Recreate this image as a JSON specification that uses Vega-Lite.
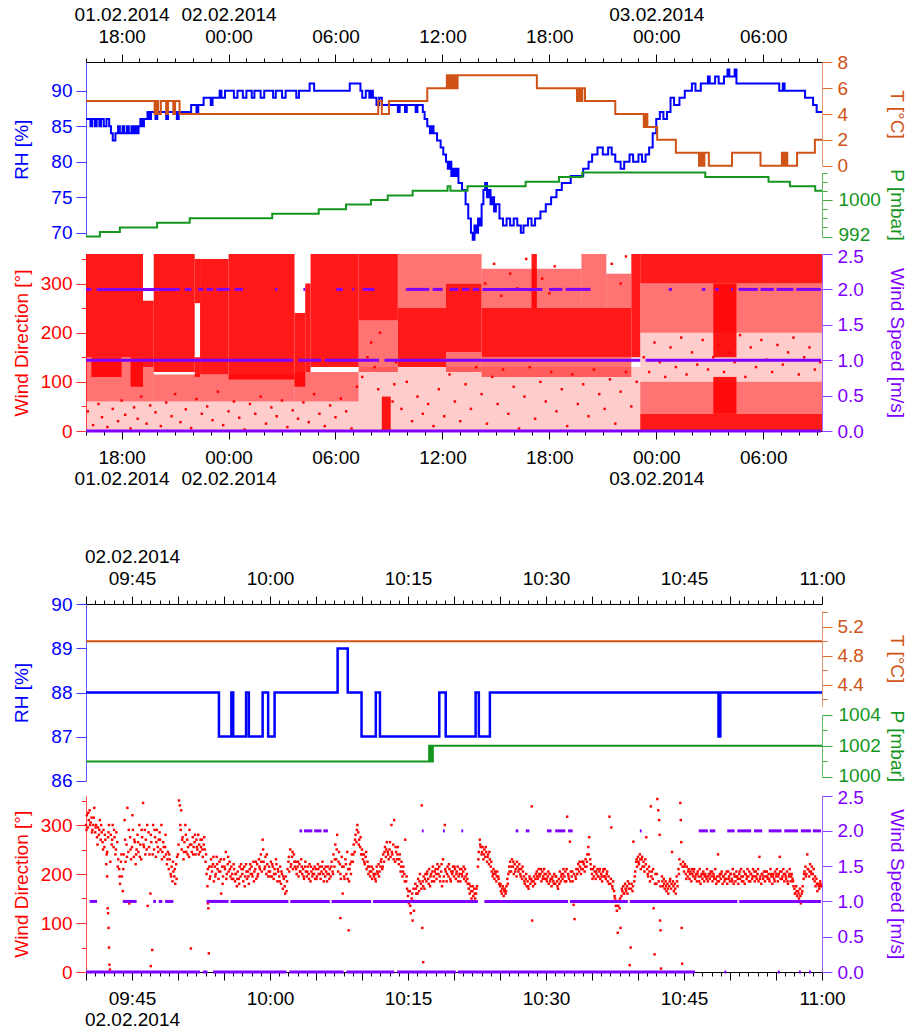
{
"$schema": "https://vega.github.io/schema/vega-lite/v6.json",
"background": "white",
"padding": {"left": 12, "top": 5, "right": 2, "bottom": 2},
"bounds": "flush",
"spacing": 173,
"config": {
  "font": "Liberation Sans",
  "view": {"stroke": null},
  "axis": {"labelFont": "Liberation Sans", "titleFont": "Liberation Sans", "labelFontSize": 19, "titleFontSize": 19, "titleFontWeight": "normal", "grid": false, "labelOverlap": false, "labelFlush": false, "labelBound": false, "domainWidth": 1, "tickWidth": 1, "labelLineHeight": 21.5}
},
"datasets": {
  "rh1": [{"h":16.0,"v":86},{"h":16.25,"v":85},{"h":16.35,"v":86},{"h":16.5,"v":85},{"h":16.6,"v":86},{"h":16.75,"v":85},{"h":16.85,"v":86},{"h":17.0,"v":85},{"h":17.15,"v":86},{"h":17.3,"v":85},{"h":17.4,"v":84},{"h":17.5,"v":83},{"h":17.65,"v":84},{"h":17.8,"v":85},{"h":17.9,"v":84},{"h":18.05,"v":85},{"h":18.15,"v":84},{"h":18.3,"v":85},{"h":18.4,"v":84},{"h":18.55,"v":85},{"h":18.65,"v":84},{"h":18.75,"v":85},{"h":18.85,"v":84},{"h":18.95,"v":85},{"h":19.05,"v":86},{"h":19.15,"v":85},{"h":19.25,"v":86},{"h":19.45,"v":87},{"h":19.55,"v":86},{"h":19.65,"v":87},{"h":19.9,"v":86},{"h":20.0,"v":87},{"h":20.5,"v":86},{"h":20.6,"v":87},{"h":21.1,"v":86},{"h":21.2,"v":87},{"h":21.9,"v":88},{"h":22.2,"v":87},{"h":22.3,"v":88},{"h":22.6,"v":89},{"h":23.0,"v":88},{"h":23.1,"v":89},{"h":23.5,"v":90},{"h":23.6,"v":89},{"h":23.8,"v":90},{"h":24.3,"v":89},{"h":24.5,"v":90},{"h":24.8,"v":89},{"h":25.0,"v":90},{"h":25.3,"v":89},{"h":25.45,"v":90},{"h":25.8,"v":89},{"h":26.0,"v":90},{"h":26.5,"v":89},{"h":26.65,"v":90},{"h":27.0,"v":89},{"h":27.2,"v":90},{"h":27.8,"v":89},{"h":27.95,"v":90},{"h":28.55,"v":91},{"h":28.8,"v":90},{"h":30.8,"v":91},{"h":31.4,"v":90},{"h":31.5,"v":89},{"h":31.7,"v":90},{"h":31.9,"v":89},{"h":32.0,"v":90},{"h":32.1,"v":89},{"h":32.3,"v":88},{"h":32.45,"v":89},{"h":32.6,"v":88},{"h":33.5,"v":87},{"h":33.6,"v":88},{"h":33.9,"v":87},{"h":34.0,"v":88},{"h":34.5,"v":87},{"h":34.6,"v":88},{"h":34.9,"v":87},{"h":35.0,"v":86},{"h":35.15,"v":85},{"h":35.3,"v":84},{"h":35.4,"v":85},{"h":35.5,"v":84},{"h":35.7,"v":83},{"h":35.9,"v":82},{"h":36.05,"v":81},{"h":36.2,"v":80},{"h":36.3,"v":79},{"h":36.4,"v":80},{"h":36.5,"v":78},{"h":36.6,"v":79},{"h":36.7,"v":78},{"h":36.8,"v":79},{"h":36.9,"v":77},{"h":37.1,"v":76},{"h":37.3,"v":74},{"h":37.45,"v":72},{"h":37.6,"v":70},{"h":37.7,"v":69},{"h":37.8,"v":71},{"h":37.9,"v":70},{"h":38.0,"v":72},{"h":38.1,"v":71},{"h":38.2,"v":74},{"h":38.3,"v":76},{"h":38.4,"v":77},{"h":38.5,"v":75},{"h":38.6,"v":76},{"h":38.7,"v":74},{"h":38.8,"v":75},{"h":38.9,"v":73},{"h":39.0,"v":74},{"h":39.2,"v":72},{"h":39.4,"v":71},{"h":39.6,"v":72},{"h":39.8,"v":71},{"h":40.0,"v":72},{"h":40.2,"v":71},{"h":40.4,"v":70},{"h":40.55,"v":71},{"h":40.8,"v":72},{"h":41.0,"v":71},{"h":41.2,"v":72},{"h":41.5,"v":73},{"h":41.8,"v":74},{"h":42.1,"v":75},{"h":42.4,"v":76},{"h":42.7,"v":77},{"h":43.2,"v":78},{"h":43.9,"v":79},{"h":44.2,"v":80},{"h":44.4,"v":81},{"h":44.7,"v":82},{"h":45.0,"v":81},{"h":45.3,"v":82},{"h":45.5,"v":81},{"h":45.7,"v":80},{"h":46.0,"v":79},{"h":46.2,"v":80},{"h":46.5,"v":81},{"h":46.7,"v":80},{"h":47.0,"v":81},{"h":47.2,"v":80},{"h":47.4,"v":81},{"h":47.6,"v":82},{"h":47.8,"v":84},{"h":48.0,"v":86},{"h":48.2,"v":87},{"h":48.4,"v":86},{"h":48.6,"v":87},{"h":48.8,"v":89},{"h":49.0,"v":88},{"h":49.3,"v":89},{"h":49.6,"v":90},{"h":50.0,"v":91},{"h":50.2,"v":90},{"h":50.5,"v":91},{"h":50.9,"v":92},{"h":51.0,"v":91},{"h":51.3,"v":92},{"h":51.5,"v":91},{"h":51.8,"v":92},{"h":52.0,"v":93},{"h":52.1,"v":92},{"h":52.4,"v":93},{"h":52.5,"v":91},{"h":54.9,"v":90},{"h":55.1,"v":91},{"h":55.2,"v":90},{"h":56.35,"v":89},{"h":56.8,"v":88},{"h":57.0,"v":87},{"h":57.3,"v":87}],
  "t1": [{"h":16,"v":5},{"h":19.85,"v":4},{"h":19.95,"v":5},{"h":20.05,"v":4},{"h":20.2,"v":5},{"h":20.5,"v":4},{"h":20.6,"v":5},{"h":20.9,"v":4},{"h":21.0,"v":5},{"h":21.25,"v":4},{"h":32.4,"v":5},{"h":32.6,"v":4},{"h":33.0,"v":5},{"h":35.15,"v":6},{"h":36.25,"v":7},{"h":36.35,"v":6},{"h":36.45,"v":7},{"h":36.55,"v":6},{"h":36.65,"v":7},{"h":36.75,"v":6},{"h":36.85,"v":7},{"h":41.3,"v":6},{"h":43.55,"v":5},{"h":43.65,"v":6},{"h":43.75,"v":5},{"h":43.85,"v":6},{"h":44.0,"v":5},{"h":45.7,"v":4},{"h":47.3,"v":3},{"h":47.4,"v":4},{"h":47.5,"v":3},{"h":48.05,"v":2},{"h":49.1,"v":1},{"h":50.4,"v":0},{"h":50.5,"v":1},{"h":50.6,"v":0},{"h":50.7,"v":1},{"h":50.95,"v":0},{"h":52.25,"v":1},{"h":53.85,"v":0},{"h":55.05,"v":1},{"h":55.15,"v":0},{"h":55.25,"v":1},{"h":55.35,"v":0},{"h":55.9,"v":1},{"h":56.9,"v":2},{"h":57.3,"v":2}],
  "p1": [{"h":16,"v":992},{"h":16.78,"v":993},{"h":17.9,"v":994},{"h":19.99,"v":995},{"h":21.82,"v":996},{"h":26.45,"v":997},{"h":29.06,"v":998},{"h":30.59,"v":999},{"h":31.99,"v":1000},{"h":32.93,"v":1001},{"h":34.33,"v":1002},{"h":36.29,"v":1003},{"h":36.45,"v":1002},{"h":37.41,"v":1003},{"h":40.67,"v":1004},{"h":42.54,"v":1005},{"h":43.85,"v":1006},{"h":50.75,"v":1005},{"h":54.3,"v":1004},{"h":55.5,"v":1003},{"h":56.92,"v":1002},{"h":57.3,"v":1002}],
  "wdL1": [{"h0":16.0,"h1":31.3,"lo":0,"hi":60},{"h0":31.3,"h1":47.1,"lo":0,"hi":130},{"h0":47.1,"h1":57.3,"lo":100,"hi":200}],
  "wdM1": [{"h0":16.0,"h1":19.2,"lo":60,"hi":150},{"h0":19.2,"h1":19.8,"lo":60,"hi":130},{"h0":19.8,"h1":27.7,"lo":60,"hi":115},{"h0":27.7,"h1":31.3,"lo":60,"hi":120},{"h0":31.3,"h1":33.5,"lo":120,"hi":225},{"h0":33.5,"h1":36.2,"lo":250,"hi":360},{"h0":36.2,"h1":38.2,"lo":300,"hi":360},{"h0":36.2,"h1":38.2,"lo":120,"hi":160},{"h0":38.2,"h1":43.8,"lo":250,"hi":330},{"h0":38.2,"h1":46.6,"lo":110,"hi":150},{"h0":43.8,"h1":45.2,"lo":250,"hi":360},{"h0":45.2,"h1":46.6,"lo":250,"hi":320},{"h0":47.1,"h1":57.3,"lo":200,"hi":300},{"h0":47.1,"h1":57.3,"lo":35,"hi":100}],
  "wdD1": [{"h0":16.0,"h1":19.2,"lo":150,"hi":360},{"h0":16.3,"h1":18.0,"lo":110,"hi":150},{"h0":18.5,"h1":19.2,"lo":90,"hi":150},{"h0":19.2,"h1":19.8,"lo":130,"hi":265},{"h0":19.8,"h1":22.1,"lo":120,"hi":360},{"h0":22.1,"h1":22.4,"lo":260,"hi":350},{"h0":22.1,"h1":22.4,"lo":110,"hi":150},{"h0":22.4,"h1":24.0,"lo":115,"hi":350},{"h0":24.0,"h1":27.7,"lo":105,"hi":360},{"h0":27.7,"h1":28.3,"lo":90,"hi":240},{"h0":28.3,"h1":28.6,"lo":120,"hi":300},{"h0":28.6,"h1":31.3,"lo":130,"hi":360},{"h0":31.3,"h1":33.5,"lo":225,"hi":360},{"h0":32.6,"h1":33.1,"lo":0,"hi":70},{"h0":33.5,"h1":36.2,"lo":130,"hi":250},{"h0":36.2,"h1":38.2,"lo":160,"hi":300},{"h0":38.2,"h1":46.6,"lo":150,"hi":250},{"h0":41.0,"h1":41.3,"lo":250,"hi":360},{"h0":46.6,"h1":47.1,"lo":150,"hi":360},{"h0":47.1,"h1":57.3,"lo":300,"hi":360},{"h0":47.1,"h1":57.3,"lo":0,"hi":35},{"h0":51.2,"h1":52.5,"lo":35,"hi":110},{"h0":51.2,"h1":52.5,"lo":150,"hi":300}],
  "wdp1": [{"h":16.1,"d":40},{"h":16.4,"d":12},{"h":16.7,"d":55},{"h":16.9,"d":28},{"h":17.2,"d":8},{"h":17.5,"d":45},{"h":17.8,"d":20},{"h":18.0,"d":62},{"h":18.2,"d":33},{"h":18.5,"d":5},{"h":18.7,"d":48},{"h":18.9,"d":25},{"h":19.1,"d":70},{"h":19.4,"d":15},{"h":19.6,"d":52},{"h":19.9,"d":38},{"h":20.2,"d":10},{"h":20.5,"d":58},{"h":20.8,"d":30},{"h":21.0,"d":75},{"h":21.3,"d":18},{"h":21.6,"d":44},{"h":21.9,"d":6},{"h":22.2,"d":65},{"h":22.5,"d":35},{"h":22.8,"d":50},{"h":23.1,"d":22},{"h":23.4,"d":80},{"h":23.7,"d":12},{"h":24.0,"d":40},{"h":24.3,"d":60},{"h":24.6,"d":27},{"h":24.9,"d":3},{"h":25.2,"d":55},{"h":25.5,"d":35},{"h":25.8,"d":70},{"h":26.1,"d":15},{"h":26.4,"d":48},{"h":26.7,"d":30},{"h":27.0,"d":62},{"h":27.3,"d":8},{"h":27.6,"d":42},{"h":27.9,"d":25},{"h":28.2,"d":58},{"h":28.5,"d":18},{"h":28.8,"d":75},{"h":29.1,"d":35},{"h":29.4,"d":10},{"h":29.7,"d":52},{"h":30.0,"d":28},{"h":30.3,"d":66},{"h":30.6,"d":40},{"h":30.9,"d":5},{"h":31.2,"d":90},{"h":31.5,"d":110},{"h":31.8,"d":150},{"h":32.0,"d":180},{"h":32.2,"d":130},{"h":32.4,"d":85},{"h":32.5,"d":200},{"h":33.2,"d":60},{"h":33.3,"d":95},{"h":33.4,"d":140},{"h":33.7,"d":45},{"h":34.0,"d":100},{"h":34.3,"d":20},{"h":34.6,"d":70},{"h":34.9,"d":35},{"h":35.2,"d":55},{"h":35.5,"d":10},{"h":35.8,"d":85},{"h":36.1,"d":30},{"h":36.4,"d":115},{"h":36.7,"d":60},{"h":37.0,"d":20},{"h":37.3,"d":95},{"h":37.6,"d":45},{"h":37.9,"d":130},{"h":38.2,"d":75},{"h":38.5,"d":15},{"h":38.8,"d":110},{"h":39.1,"d":55},{"h":39.4,"d":125},{"h":39.7,"d":35},{"h":40.0,"d":90},{"h":40.3,"d":5},{"h":40.6,"d":70},{"h":40.9,"d":130},{"h":41.2,"d":25},{"h":41.5,"d":100},{"h":41.8,"d":60},{"h":42.1,"d":120},{"h":42.4,"d":40},{"h":42.7,"d":85},{"h":43.0,"d":10},{"h":43.3,"d":115},{"h":43.6,"d":55},{"h":43.9,"d":95},{"h":44.2,"d":30},{"h":44.5,"d":125},{"h":44.8,"d":75},{"h":45.1,"d":45},{"h":45.4,"d":105},{"h":45.7,"d":15},{"h":46.0,"d":80},{"h":46.3,"d":120},{"h":46.6,"d":50},{"h":46.9,"d":100},{"h":38.4,"d":300},{"h":38.9,"d":340},{"h":39.3,"d":275},{"h":39.8,"d":320},{"h":40.2,"d":290},{"h":40.7,"d":350},{"h":41.6,"d":310},{"h":42.0,"d":280},{"h":42.3,"d":335},{"h":45.5,"d":340},{"h":46.0,"d":300},{"h":46.3,"d":355},{"h":47.3,"d":150},{"h":47.6,"d":120},{"h":47.9,"d":180},{"h":48.2,"d":140},{"h":48.5,"d":110},{"h":48.8,"d":170},{"h":49.1,"d":130},{"h":49.4,"d":190},{"h":49.7,"d":115},{"h":50.0,"d":160},{"h":50.3,"d":135},{"h":50.6,"d":185},{"h":50.9,"d":125},{"h":51.2,"d":150},{"h":51.5,"d":175},{"h":51.8,"d":120},{"h":52.1,"d":160},{"h":52.4,"d":140},{"h":52.7,"d":195},{"h":53.0,"d":110},{"h":53.3,"d":170},{"h":53.6,"d":130},{"h":53.9,"d":185},{"h":54.2,"d":145},{"h":54.5,"d":120},{"h":54.8,"d":175},{"h":55.1,"d":135},{"h":55.4,"d":160},{"h":55.7,"d":190},{"h":56.0,"d":115},{"h":56.3,"d":150},{"h":56.6,"d":170},{"h":56.9,"d":125},{"h":57.2,"d":140}],
  "ws1": [{"h0":16.0,"h1":16.3,"s":2},{"h0":16.6,"h1":21.26,"s":2},{"h0":21.54,"h1":21.92,"s":2},{"h0":22.29,"h1":22.57,"s":2},{"h0":22.76,"h1":23.13,"s":2},{"h0":23.32,"h1":24.06,"s":2},{"h0":24.34,"h1":24.81,"s":2},{"h0":26.6,"h1":26.75,"s":2},{"h0":28.2,"h1":28.3,"s":2},{"h0":30.04,"h1":30.41,"s":2},{"h0":30.95,"h1":31.05,"s":2},{"h0":31.53,"h1":32.18,"s":2},{"h0":33.95,"h1":35.26,"s":2},{"h0":35.45,"h1":36.01,"s":2},{"h0":36.4,"h1":36.9,"s":2},{"h0":37.1,"h1":37.5,"s":2},{"h0":37.7,"h1":38.06,"s":2},{"h0":38.25,"h1":41.61,"s":2},{"h0":41.98,"h1":42.73,"s":2},{"h0":42.91,"h1":44.31,"s":2},{"h0":48.7,"h1":48.88,"s":2},{"h0":50.56,"h1":50.75,"s":2},{"h0":51.31,"h1":51.5,"s":2},{"h0":52.2,"h1":52.3,"s":2},{"h0":52.62,"h1":53.7,"s":2},{"h0":53.85,"h1":54.6,"s":2},{"h0":54.75,"h1":55.7,"s":2},{"h0":55.85,"h1":57.25,"s":2},{"h0":16.0,"h1":27.6,"s":1},{"h0":27.9,"h1":29.2,"s":1},{"h0":29.4,"h1":32.45,"s":1},{"h0":32.75,"h1":47.1,"s":1},{"h0":47.4,"h1":57.25,"s":1},{"h0":16.0,"h1":57.25,"s":0}],
  "rh2": [{"m":40,"v":88},{"m":54.45,"v":87},{"m":55.8,"v":88},{"m":56.0,"v":87},{"m":57.4,"v":88},{"m":57.7,"v":87},{"m":59.2,"v":88},{"m":59.8,"v":87},{"m":60.5,"v":88},{"m":67.35,"v":89},{"m":68.45,"v":88},{"m":69.95,"v":87},{"m":71.5,"v":88},{"m":71.95,"v":87},{"m":78.4,"v":88},{"m":79.1,"v":87},{"m":82.35,"v":88},{"m":82.7,"v":87},{"m":83.9,"v":88},{"m":108.75,"v":87},{"m":108.95,"v":88},{"m":120,"v":88}],
  "t2": [{"m":40,"v":5.0},{"m":120,"v":5.0}],
  "p2": [{"m":40,"v":1001},{"m":77.3,"v":1002},{"m":77.4,"v":1001},{"m":77.5,"v":1002},{"m":77.6,"v":1001},{"m":77.7,"v":1002},{"m":120,"v":1002}],
  "ws2": [{"m0":63.2,"m1":63.5,"s":2},{"m0":63.7,"m1":64.6,"s":2},{"m0":64.8,"m1":65.6,"s":2},{"m0":65.8,"m1":66.3,"s":2},{"m0":76.5,"m1":76.7,"s":2},{"m0":78.8,"m1":79.0,"s":2},{"m0":80.8,"m1":81.0,"s":2},{"m0":86.7,"m1":87.0,"s":2},{"m0":87.8,"m1":88.2,"s":2},{"m0":90.1,"m1":90.6,"s":2},{"m0":91.0,"m1":92.1,"s":2},{"m0":92.4,"m1":92.9,"s":2},{"m0":100.2,"m1":100.4,"s":2},{"m0":106.6,"m1":107.6,"s":2},{"m0":107.8,"m1":108.4,"s":2},{"m0":109.7,"m1":110.5,"s":2},{"m0":110.8,"m1":112.3,"s":2},{"m0":112.6,"m1":113.5,"s":2},{"m0":114.2,"m1":115.6,"s":2},{"m0":115.9,"m1":117.4,"s":2},{"m0":117.7,"m1":118.8,"s":2},{"m0":119.0,"m1":119.9,"s":2},{"m0":40.4,"m1":41.2,"s":1},{"m0":44.0,"m1":45.5,"s":1},{"m0":47.3,"m1":47.6,"s":1},{"m0":47.9,"m1":48.3,"s":1},{"m0":48.6,"m1":49.5,"s":1},{"m0":53.1,"m1":55.5,"s":1},{"m0":55.7,"m1":62.0,"s":1},{"m0":62.2,"m1":66.5,"s":1},{"m0":66.7,"m1":71.0,"s":1},{"m0":71.2,"m1":82.6,"s":1},{"m0":83.3,"m1":92.4,"s":1},{"m0":92.6,"m1":98.9,"s":1},{"m0":99.1,"m1":110.8,"s":1},{"m0":111.0,"m1":119.9,"s":1},{"m0":40,"m1":52.4,"s":0},{"m0":52.7,"m1":53.2,"s":0},{"m0":53.8,"m1":61.8,"s":0},{"m0":62.1,"m1":68.0,"s":0},{"m0":68.3,"m1":73.5,"s":0},{"m0":73.8,"m1":80.2,"s":0},{"m0":80.4,"m1":106.2,"s":0},{"m0":109.4,"m1":109.6,"s":0},{"m0":115.2,"m1":115.4,"s":0},{"m0":117.5,"m1":117.7,"s":0},{"m0":118.6,"m1":118.8,"s":0}],
  "wd2": [{"m":40.0,"d":300},{"m":40.1,"d":320},{"m":40.2,"d":295},{"m":40.3,"d":310},{"m":40.4,"d":330},{"m":40.5,"d":305},{"m":40.6,"d":315},{"m":40.7,"d":290},{"m":40.8,"d":300},{"m":40.9,"d":335},{"m":41.0,"d":285},{"m":41.1,"d":300},{"m":41.2,"d":275},{"m":41.3,"d":295},{"m":41.4,"d":280},{"m":41.5,"d":310},{"m":41.6,"d":270},{"m":41.7,"d":285},{"m":41.8,"d":265},{"m":41.9,"d":290},{"m":42.0,"d":255},{"m":42.1,"d":270},{"m":42.2,"d":220},{"m":42.3,"d":195},{"m":42.35,"d":130},{"m":42.4,"d":120},{"m":42.45,"d":90},{"m":42.5,"d":50},{"m":42.55,"d":15},{"m":42.6,"d":5},{"m":42.3,"d":245},{"m":42.4,"d":275},{"m":42.5,"d":300},{"m":42.7,"d":280},{"m":42.8,"d":260},{"m":42.9,"d":300},{"m":43.0,"d":255},{"m":43.1,"d":275},{"m":43.2,"d":240},{"m":43.3,"d":285},{"m":43.4,"d":265},{"m":43.5,"d":230},{"m":43.6,"d":210},{"m":43.7,"d":180},{"m":43.8,"d":225},{"m":43.9,"d":195},{"m":44.0,"d":165},{"m":44.1,"d":240},{"m":44.2,"d":310},{"m":44.3,"d":225},{"m":44.4,"d":260},{"m":44.5,"d":335},{"m":44.6,"d":245},{"m":44.7,"d":140},{"m":44.8,"d":275},{"m":44.9,"d":230},{"m":45.0,"d":255},{"m":45.1,"d":290},{"m":45.2,"d":235},{"m":45.3,"d":265},{"m":45.4,"d":220},{"m":45.5,"d":250},{"m":45.6,"d":280},{"m":45.7,"d":245},{"m":45.8,"d":300},{"m":45.9,"d":260},{"m":46.0,"d":230},{"m":46.1,"d":275},{"m":46.2,"d":345},{"m":46.3,"d":255},{"m":46.4,"d":290},{"m":46.5,"d":270},{"m":46.6,"d":250},{"m":46.7,"d":135},{"m":46.8,"d":285},{"m":46.9,"d":240},{"m":47.0,"d":160},{"m":47.05,"d":12},{"m":47.1,"d":265},{"m":47.2,"d":45},{"m":47.3,"d":300},{"m":47.4,"d":250},{"m":47.5,"d":275},{"m":47.6,"d":235},{"m":47.7,"d":290},{"m":47.8,"d":255},{"m":47.9,"d":270},{"m":48.0,"d":285},{"m":48.1,"d":250},{"m":48.2,"d":300},{"m":48.3,"d":245},{"m":48.4,"d":265},{"m":48.5,"d":235},{"m":48.6,"d":255},{"m":48.7,"d":240},{"m":48.8,"d":220},{"m":48.9,"d":245},{"m":49.0,"d":210},{"m":49.1,"d":230},{"m":49.2,"d":200},{"m":49.3,"d":215},{"m":49.4,"d":185},{"m":49.5,"d":205},{"m":49.6,"d":195},{"m":49.7,"d":180},{"m":49.8,"d":220},{"m":49.9,"d":235},{"m":50.0,"d":240},{"m":50.1,"d":350},{"m":50.2,"d":340},{"m":50.3,"d":290},{"m":50.35,"d":330},{"m":50.4,"d":250},{"m":50.5,"d":275},{"m":50.6,"d":230},{"m":50.7,"d":265},{"m":50.8,"d":300},{"m":50.9,"d":245},{"m":51.0,"d":270},{"m":51.1,"d":255},{"m":51.2,"d":235},{"m":51.3,"d":260},{"m":51.4,"d":48},{"m":51.5,"d":245},{"m":51.6,"d":275},{"m":51.7,"d":255},{"m":51.8,"d":265},{"m":51.9,"d":240},{"m":52.0,"d":270},{"m":52.1,"d":250},{"m":52.2,"d":280},{"m":52.3,"d":260},{"m":52.4,"d":245},{"m":52.5,"d":255},{"m":52.6,"d":270},{"m":52.7,"d":235},{"m":52.8,"d":260},{"m":52.9,"d":250},{"m":53.0,"d":225},{"m":53.1,"d":200},{"m":53.2,"d":175},{"m":53.25,"d":140},{"m":53.3,"d":130},{"m":53.35,"d":38},{"m":53.4,"d":215},{"m":53.5,"d":195},{"m":53.6,"d":230},{"m":53.7,"d":205},{"m":53.8,"d":220},{"m":53.9,"d":185},{"m":54.0,"d":215},{"m":54.1,"d":200},{"m":54.2,"d":235},{"m":54.3,"d":210},{"m":54.4,"d":190},{"m":54.5,"d":225},{"m":54.6,"d":205},{"m":54.7,"d":160},{"m":54.8,"d":215},{"m":54.9,"d":195},{"m":55.0,"d":230},{"m":55.1,"d":210},{"m":55.2,"d":245},{"m":55.3,"d":200},{"m":55.4,"d":220},{"m":55.5,"d":205},{"m":55.6,"d":225},{"m":55.7,"d":195},{"m":55.8,"d":215},{"m":55.9,"d":200},{"m":56.0,"d":190},{"m":56.1,"d":210},{"m":56.2,"d":185},{"m":56.3,"d":200},{"m":56.4,"d":175},{"m":56.5,"d":205},{"m":56.6,"d":190},{"m":56.7,"d":215},{"m":56.8,"d":195},{"m":56.9,"d":210},{"m":57.0,"d":200},{"m":57.1,"d":185},{"m":57.2,"d":215},{"m":57.3,"d":195},{"m":57.4,"d":220},{"m":57.5,"d":190},{"m":57.6,"d":205},{"m":57.7,"d":180},{"m":57.8,"d":210},{"m":57.9,"d":200},{"m":58.0,"d":215},{"m":58.1,"d":195},{"m":58.2,"d":225},{"m":58.3,"d":205},{"m":58.4,"d":210},{"m":58.5,"d":190},{"m":58.6,"d":220},{"m":58.7,"d":200},{"m":58.8,"d":230},{"m":58.9,"d":210},{"m":59.0,"d":240},{"m":59.1,"d":205},{"m":59.2,"d":270},{"m":59.3,"d":225},{"m":59.4,"d":210},{"m":59.5,"d":235},{"m":59.6,"d":200},{"m":59.7,"d":220},{"m":59.8,"d":195},{"m":59.9,"d":215},{"m":60.0,"d":205},{"m":60.1,"d":225},{"m":60.2,"d":195},{"m":60.3,"d":215},{"m":60.4,"d":190},{"m":60.5,"d":210},{"m":60.6,"d":200},{"m":60.7,"d":220},{"m":60.8,"d":185},{"m":60.9,"d":205},{"m":61.0,"d":195},{"m":61.1,"d":215},{"m":61.2,"d":180},{"m":61.3,"d":200},{"m":61.4,"d":170},{"m":61.5,"d":190},{"m":61.6,"d":175},{"m":61.7,"d":195},{"m":61.8,"d":165},{"m":61.9,"d":210},{"m":62.0,"d":225},{"m":62.1,"d":205},{"m":62.2,"d":250},{"m":62.3,"d":220},{"m":62.4,"d":235},{"m":62.5,"d":210},{"m":62.6,"d":240},{"m":62.7,"d":215},{"m":62.8,"d":225},{"m":62.9,"d":200},{"m":63.0,"d":215},{"m":63.1,"d":195},{"m":63.2,"d":220},{"m":63.3,"d":205},{"m":63.4,"d":230},{"m":63.5,"d":200},{"m":63.6,"d":210},{"m":63.7,"d":190},{"m":63.8,"d":215},{"m":63.9,"d":205},{"m":64.0,"d":195},{"m":64.1,"d":215},{"m":64.2,"d":200},{"m":64.3,"d":220},{"m":64.4,"d":185},{"m":64.5,"d":205},{"m":64.6,"d":195},{"m":64.7,"d":210},{"m":64.8,"d":200},{"m":64.9,"d":190},{"m":65.0,"d":210},{"m":65.1,"d":195},{"m":65.2,"d":220},{"m":65.3,"d":200},{"m":65.4,"d":215},{"m":65.5,"d":190},{"m":65.6,"d":205},{"m":65.7,"d":225},{"m":65.8,"d":200},{"m":65.9,"d":210},{"m":66.0,"d":195},{"m":66.1,"d":205},{"m":66.2,"d":185},{"m":66.3,"d":215},{"m":66.4,"d":200},{"m":66.5,"d":210},{"m":66.6,"d":195},{"m":66.7,"d":225},{"m":66.8,"d":205},{"m":66.9,"d":240},{"m":67.0,"d":215},{"m":67.1,"d":260},{"m":67.2,"d":230},{"m":67.3,"d":280},{"m":67.4,"d":205},{"m":67.5,"d":245},{"m":67.6,"d":220},{"m":67.65,"d":110},{"m":67.7,"d":190},{"m":67.8,"d":235},{"m":67.9,"d":160},{"m":68.0,"d":215},{"m":68.1,"d":190},{"m":68.2,"d":230},{"m":68.3,"d":200},{"m":68.4,"d":245},{"m":68.5,"d":210},{"m":68.55,"d":85},{"m":68.6,"d":185},{"m":68.7,"d":220},{"m":68.8,"d":200},{"m":68.9,"d":240},{"m":69.0,"d":225},{"m":69.1,"d":260},{"m":69.2,"d":245},{"m":69.3,"d":280},{"m":69.4,"d":265},{"m":69.5,"d":300},{"m":69.6,"d":285},{"m":69.7,"d":270},{"m":69.8,"d":255},{"m":69.9,"d":240},{"m":70.0,"d":250},{"m":70.1,"d":230},{"m":70.2,"d":240},{"m":70.3,"d":220},{"m":70.4,"d":235},{"m":70.5,"d":210},{"m":70.6,"d":225},{"m":70.7,"d":200},{"m":70.8,"d":215},{"m":70.9,"d":195},{"m":71.0,"d":205},{"m":71.1,"d":190},{"m":71.2,"d":210},{"m":71.3,"d":195},{"m":71.4,"d":200},{"m":71.5,"d":185},{"m":71.6,"d":215},{"m":71.7,"d":200},{"m":71.8,"d":220},{"m":71.9,"d":205},{"m":72.0,"d":215},{"m":72.1,"d":230},{"m":72.2,"d":210},{"m":72.3,"d":240},{"m":72.4,"d":225},{"m":72.5,"d":255},{"m":72.6,"d":235},{"m":72.7,"d":265},{"m":72.8,"d":245},{"m":72.9,"d":230},{"m":73.0,"d":250},{"m":73.1,"d":235},{"m":73.2,"d":300},{"m":73.3,"d":240},{"m":73.4,"d":260},{"m":73.5,"d":310},{"m":73.6,"d":225},{"m":73.7,"d":245},{"m":73.8,"d":230},{"m":73.9,"d":255},{"m":74.0,"d":220},{"m":74.1,"d":240},{"m":74.2,"d":205},{"m":74.3,"d":225},{"m":74.4,"d":195},{"m":74.5,"d":215},{"m":74.6,"d":200},{"m":74.7,"d":270},{"m":74.8,"d":185},{"m":74.9,"d":170},{"m":75.0,"d":155},{"m":75.1,"d":140},{"m":75.2,"d":165},{"m":75.3,"d":120},{"m":75.4,"d":150},{"m":75.5,"d":105},{"m":75.6,"d":170},{"m":75.7,"d":145},{"m":75.8,"d":180},{"m":75.9,"d":160},{"m":76.0,"d":175},{"m":76.1,"d":190},{"m":76.2,"d":165},{"m":76.3,"d":200},{"m":76.4,"d":180},{"m":76.5,"d":340},{"m":76.55,"d":90},{"m":76.6,"d":185},{"m":76.65,"d":20},{"m":76.7,"d":195},{"m":76.8,"d":170},{"m":76.9,"d":200},{"m":77.0,"d":185},{"m":77.1,"d":205},{"m":77.2,"d":190},{"m":77.3,"d":210},{"m":77.4,"d":175},{"m":77.5,"d":200},{"m":77.6,"d":185},{"m":77.7,"d":215},{"m":77.8,"d":195},{"m":77.9,"d":205},{"m":78.0,"d":210},{"m":78.1,"d":190},{"m":78.2,"d":220},{"m":78.3,"d":200},{"m":78.4,"d":215},{"m":78.5,"d":185},{"m":78.6,"d":205},{"m":78.7,"d":175},{"m":78.8,"d":230},{"m":78.9,"d":195},{"m":79.0,"d":300},{"m":79.1,"d":205},{"m":79.2,"d":185},{"m":79.3,"d":215},{"m":79.4,"d":195},{"m":79.5,"d":210},{"m":79.6,"d":190},{"m":79.7,"d":205},{"m":79.8,"d":200},{"m":79.9,"d":215},{"m":80.0,"d":195},{"m":80.1,"d":210},{"m":80.2,"d":190},{"m":80.3,"d":205},{"m":80.4,"d":215},{"m":80.5,"d":195},{"m":80.6,"d":200},{"m":80.7,"d":185},{"m":80.8,"d":210},{"m":80.9,"d":195},{"m":81.0,"d":205},{"m":81.1,"d":190},{"m":81.2,"d":210},{"m":81.3,"d":185},{"m":81.4,"d":200},{"m":81.5,"d":180},{"m":81.6,"d":170},{"m":81.7,"d":160},{"m":81.8,"d":175},{"m":81.9,"d":150},{"m":82.0,"d":165},{"m":82.1,"d":155},{"m":82.2,"d":170},{"m":82.3,"d":150},{"m":82.4,"d":160},{"m":82.5,"d":175},{"m":82.6,"d":215},{"m":82.7,"d":245},{"m":82.8,"d":270},{"m":82.9,"d":255},{"m":83.0,"d":240},{"m":83.1,"d":255},{"m":83.2,"d":230},{"m":83.3,"d":250},{"m":83.4,"d":235},{"m":83.5,"d":245},{"m":83.6,"d":225},{"m":83.7,"d":240},{"m":83.8,"d":220},{"m":83.9,"d":230},{"m":84.0,"d":215},{"m":84.1,"d":205},{"m":84.2,"d":195},{"m":84.3,"d":210},{"m":84.4,"d":190},{"m":84.5,"d":200},{"m":84.6,"d":185},{"m":84.7,"d":205},{"m":84.8,"d":195},{"m":84.9,"d":180},{"m":85.0,"d":175},{"m":85.1,"d":165},{"m":85.2,"d":160},{"m":85.3,"d":175},{"m":85.4,"d":155},{"m":85.5,"d":170},{"m":85.6,"d":160},{"m":85.7,"d":175},{"m":85.8,"d":190},{"m":85.9,"d":200},{"m":86.0,"d":215},{"m":86.1,"d":225},{"m":86.2,"d":205},{"m":86.3,"d":230},{"m":86.4,"d":215},{"m":86.5,"d":200},{"m":86.6,"d":220},{"m":86.7,"d":210},{"m":86.8,"d":195},{"m":86.9,"d":215},{"m":87.0,"d":205},{"m":87.1,"d":220},{"m":87.2,"d":200},{"m":87.3,"d":210},{"m":87.4,"d":190},{"m":87.5,"d":205},{"m":87.6,"d":195},{"m":87.7,"d":180},{"m":87.8,"d":190},{"m":87.9,"d":175},{"m":88.0,"d":185},{"m":88.1,"d":170},{"m":88.2,"d":195},{"m":88.3,"d":180},{"m":88.4,"d":190},{"m":88.45,"d":338},{"m":88.5,"d":105},{"m":88.6,"d":175},{"m":88.7,"d":195},{"m":88.8,"d":180},{"m":88.9,"d":200},{"m":89.0,"d":205},{"m":89.1,"d":190},{"m":89.2,"d":210},{"m":89.3,"d":195},{"m":89.4,"d":200},{"m":89.5,"d":185},{"m":89.6,"d":205},{"m":89.7,"d":195},{"m":89.8,"d":210},{"m":89.9,"d":190},{"m":90.0,"d":200},{"m":90.1,"d":185},{"m":90.2,"d":195},{"m":90.3,"d":180},{"m":90.4,"d":200},{"m":90.5,"d":190},{"m":90.6,"d":175},{"m":90.7,"d":195},{"m":90.8,"d":185},{"m":90.9,"d":200},{"m":91.0,"d":180},{"m":91.1,"d":195},{"m":91.2,"d":185},{"m":91.3,"d":170},{"m":91.4,"d":190},{"m":91.5,"d":205},{"m":91.6,"d":185},{"m":91.7,"d":200},{"m":91.8,"d":190},{"m":91.9,"d":210},{"m":92.0,"d":195},{"m":92.1,"d":205},{"m":92.2,"d":185},{"m":92.3,"d":317},{"m":92.4,"d":200},{"m":92.5,"d":190},{"m":92.6,"d":266},{"m":92.7,"d":205},{"m":92.8,"d":195},{"m":92.9,"d":185},{"m":93.0,"d":137},{"m":93.1,"d":108},{"m":93.2,"d":195},{"m":93.3,"d":210},{"m":93.4,"d":200},{"m":93.5,"d":220},{"m":93.6,"d":205},{"m":93.7,"d":215},{"m":93.8,"d":200},{"m":93.9,"d":225},{"m":94.0,"d":210},{"m":94.1,"d":220},{"m":94.2,"d":205},{"m":94.3,"d":230},{"m":94.4,"d":215},{"m":94.5,"d":240},{"m":94.6,"d":255},{"m":94.7,"d":275},{"m":94.8,"d":230},{"m":94.9,"d":210},{"m":95.0,"d":200},{"m":95.1,"d":210},{"m":95.2,"d":195},{"m":95.3,"d":205},{"m":95.4,"d":190},{"m":95.5,"d":200},{"m":95.6,"d":210},{"m":95.7,"d":195},{"m":95.8,"d":205},{"m":95.9,"d":190},{"m":96.0,"d":200},{"m":96.1,"d":185},{"m":96.2,"d":205},{"m":96.3,"d":195},{"m":96.4,"d":210},{"m":96.5,"d":190},{"m":96.6,"d":200},{"m":96.7,"d":185},{"m":96.8,"d":195},{"m":96.9,"d":317},{"m":97.0,"d":180},{"m":97.1,"d":295},{"m":97.2,"d":175},{"m":97.3,"d":185},{"m":97.4,"d":165},{"m":97.5,"d":150},{"m":97.6,"d":135},{"m":97.7,"d":125},{"m":97.8,"d":80},{"m":97.9,"d":145},{"m":98.0,"d":130},{"m":98.1,"d":90},{"m":98.2,"d":155},{"m":98.3,"d":165},{"m":98.4,"d":175},{"m":98.5,"d":160},{"m":98.6,"d":180},{"m":98.7,"d":165},{"m":98.8,"d":175},{"m":98.9,"d":185},{"m":99.0,"d":170},{"m":99.1,"d":14},{"m":99.2,"d":50},{"m":99.3,"d":180},{"m":99.4,"d":165},{"m":99.5,"d":266},{"m":99.6,"d":185},{"m":99.7,"d":205},{"m":99.8,"d":225},{"m":99.9,"d":215},{"m":100.0,"d":235},{"m":100.1,"d":220},{"m":100.2,"d":240},{"m":100.3,"d":210},{"m":100.4,"d":230},{"m":100.5,"d":215},{"m":100.6,"d":225},{"m":100.7,"d":205},{"m":100.8,"d":230},{"m":100.9,"d":275},{"m":101.0,"d":210},{"m":101.1,"d":195},{"m":101.2,"d":215},{"m":101.3,"d":185},{"m":101.4,"d":338},{"m":101.5,"d":205},{"m":101.6,"d":190},{"m":101.7,"d":130},{"m":101.8,"d":36},{"m":101.9,"d":200},{"m":102.0,"d":180},{"m":102.1,"d":353},{"m":102.2,"d":330},{"m":102.3,"d":310},{"m":102.35,"d":280},{"m":102.4,"d":105},{"m":102.45,"d":85},{"m":102.5,"d":7},{"m":102.6,"d":195},{"m":102.7,"d":175},{"m":102.8,"d":190},{"m":102.9,"d":170},{"m":103.0,"d":185},{"m":103.1,"d":165},{"m":103.2,"d":180},{"m":103.3,"d":160},{"m":103.4,"d":175},{"m":103.5,"d":190},{"m":103.6,"d":170},{"m":103.7,"d":245},{"m":103.8,"d":185},{"m":103.9,"d":165},{"m":104.0,"d":180},{"m":104.1,"d":160},{"m":104.2,"d":195},{"m":104.3,"d":175},{"m":104.4,"d":210},{"m":104.5,"d":230},{"m":104.6,"d":345},{"m":104.65,"d":310},{"m":104.7,"d":265},{"m":104.75,"d":90},{"m":104.8,"d":17},{"m":104.9,"d":225},{"m":105.0,"d":205},{"m":105.1,"d":220},{"m":105.2,"d":200},{"m":105.3,"d":215},{"m":105.4,"d":195},{"m":105.5,"d":210},{"m":105.6,"d":190},{"m":105.7,"d":205},{"m":105.8,"d":185},{"m":105.9,"d":200},{"m":106.0,"d":195},{"m":106.1,"d":210},{"m":106.2,"d":190},{"m":106.3,"d":200},{"m":106.4,"d":185},{"m":106.5,"d":205},{"m":106.6,"d":195},{"m":106.7,"d":210},{"m":106.8,"d":180},{"m":106.9,"d":200},{"m":107.0,"d":190},{"m":107.1,"d":205},{"m":107.2,"d":185},{"m":107.3,"d":200},{"m":107.4,"d":195},{"m":107.5,"d":210},{"m":107.6,"d":185},{"m":107.7,"d":200},{"m":107.8,"d":190},{"m":107.9,"d":205},{"m":108.0,"d":195},{"m":108.1,"d":185},{"m":108.2,"d":200},{"m":108.3,"d":190},{"m":108.4,"d":210},{"m":108.5,"d":180},{"m":108.6,"d":195},{"m":108.7,"d":240},{"m":108.8,"d":185},{"m":108.9,"d":200},{"m":109.0,"d":190},{"m":109.1,"d":205},{"m":109.2,"d":180},{"m":109.3,"d":195},{"m":109.4,"d":185},{"m":109.5,"d":200},{"m":109.6,"d":190},{"m":109.7,"d":180},{"m":109.8,"d":205},{"m":109.9,"d":195},{"m":110.0,"d":185},{"m":110.1,"d":200},{"m":110.2,"d":190},{"m":110.3,"d":210},{"m":110.4,"d":180},{"m":110.5,"d":195},{"m":110.6,"d":185},{"m":110.7,"d":205},{"m":110.8,"d":195},{"m":110.9,"d":180},{"m":111.0,"d":200},{"m":111.1,"d":190},{"m":111.2,"d":210},{"m":111.3,"d":185},{"m":111.4,"d":195},{"m":111.5,"d":205},{"m":111.6,"d":180},{"m":111.7,"d":200},{"m":111.8,"d":190},{"m":111.9,"d":210},{"m":112.0,"d":195},{"m":112.1,"d":205},{"m":112.2,"d":185},{"m":112.3,"d":200},{"m":112.4,"d":190},{"m":112.5,"d":210},{"m":112.6,"d":195},{"m":112.7,"d":185},{"m":112.8,"d":205},{"m":112.9,"d":190},{"m":113.0,"d":200},{"m":113.1,"d":185},{"m":113.2,"d":235},{"m":113.3,"d":195},{"m":113.4,"d":180},{"m":113.5,"d":200},{"m":113.6,"d":190},{"m":113.7,"d":205},{"m":113.8,"d":185},{"m":113.9,"d":195},{"m":114.0,"d":205},{"m":114.1,"d":190},{"m":114.2,"d":200},{"m":114.3,"d":185},{"m":114.4,"d":210},{"m":114.5,"d":195},{"m":114.6,"d":180},{"m":114.7,"d":200},{"m":114.8,"d":190},{"m":114.9,"d":205},{"m":115.0,"d":195},{"m":115.1,"d":210},{"m":115.2,"d":185},{"m":115.3,"d":200},{"m":115.4,"d":235},{"m":115.5,"d":190},{"m":115.6,"d":205},{"m":115.7,"d":195},{"m":115.8,"d":210},{"m":115.9,"d":185},{"m":116.0,"d":200},{"m":116.1,"d":190},{"m":116.2,"d":205},{"m":116.3,"d":180},{"m":116.4,"d":195},{"m":116.5,"d":210},{"m":116.6,"d":185},{"m":116.7,"d":200},{"m":116.8,"d":190},{"m":116.9,"d":175},{"m":117.0,"d":170},{"m":117.1,"d":160},{"m":117.2,"d":175},{"m":117.3,"d":155},{"m":117.4,"d":165},{"m":117.5,"d":150},{"m":117.6,"d":170},{"m":117.7,"d":140},{"m":117.8,"d":160},{"m":117.9,"d":175},{"m":118.0,"d":190},{"m":118.1,"d":205},{"m":118.2,"d":215},{"m":118.3,"d":200},{"m":118.4,"d":240},{"m":118.5,"d":210},{"m":118.6,"d":195},{"m":118.7,"d":220},{"m":118.8,"d":205},{"m":118.9,"d":215},{"m":119.0,"d":200},{"m":119.1,"d":210},{"m":119.2,"d":185},{"m":119.3,"d":175},{"m":119.4,"d":190},{"m":119.5,"d":165},{"m":119.6,"d":180},{"m":119.7,"d":170},{"m":119.8,"d":185},{"m":119.9,"d":175},
  {"m":40.05,"d":290},{"m":40.25,"d":325},{"m":40.45,"d":300},{"m":40.65,"d":285},{"m":40.85,"d":315},{"m":41.05,"d":295},{"m":41.25,"d":260},{"m":41.45,"d":290},{"m":41.65,"d":300},{"m":41.85,"d":250},{"m":42.05,"d":280},{"m":42.25,"d":240},{"m":42.45,"d":285},{"m":42.65,"d":225},{"m":42.85,"d":270},{"m":43.05,"d":290},{"m":43.25,"d":250},{"m":43.45,"d":215},{"m":43.65,"d":195},{"m":43.85,"d":240},{"m":44.05,"d":210},{"m":44.25,"d":270},{"m":44.45,"d":235},{"m":44.65,"d":290},{"m":44.85,"d":250},{"m":45.05,"d":320},{"m":45.25,"d":270},{"m":45.45,"d":240},{"m":45.65,"d":265},{"m":45.85,"d":235},{"m":46.05,"d":290},{"m":46.25,"d":260},{"m":46.45,"d":240},{"m":46.65,"d":300},{"m":46.85,"d":255},{"m":47.05,"d":280},{"m":47.25,"d":240},{"m":47.45,"d":290},{"m":47.65,"d":265},{"m":47.85,"d":245},{"m":48.05,"d":270},{"m":48.25,"d":230},{"m":48.45,"d":255},{"m":48.65,"d":280},{"m":48.85,"d":230},{"m":49.05,"d":240},{"m":49.25,"d":195},{"m":49.45,"d":225},{"m":49.65,"d":210},{"m":49.85,"d":190},{"m":50.05,"d":260},{"m":50.25,"d":300},{"m":50.45,"d":270},{"m":50.65,"d":245},{"m":50.85,"d":280},{"m":51.05,"d":240},{"m":51.25,"d":290},{"m":51.45,"d":260},{"m":51.65,"d":240},{"m":51.85,"d":280},{"m":52.05,"d":255},{"m":52.25,"d":240},{"m":52.45,"d":270},{"m":52.65,"d":250},{"m":52.85,"d":275},{"m":53.05,"d":240},{"m":53.25,"d":210},{"m":53.45,"d":190},{"m":53.65,"d":215},{"m":53.85,"d":235},{"m":54.05,"d":195},{"m":54.25,"d":220},{"m":54.45,"d":205},{"m":54.65,"d":230},{"m":54.85,"d":180},{"m":55.05,"d":215},{"m":55.25,"d":190},{"m":55.45,"d":235},{"m":55.65,"d":210},{"m":55.85,"d":190},{"m":56.05,"d":220},{"m":56.25,"d":200},{"m":56.45,"d":190},{"m":56.65,"d":180},{"m":56.85,"d":220},{"m":57.05,"d":210},{"m":57.25,"d":175},{"m":57.45,"d":205},{"m":57.65,"d":195},{"m":57.85,"d":220},{"m":58.05,"d":200},{"m":58.25,"d":185},{"m":58.45,"d":225},{"m":58.65,"d":195},{"m":58.85,"d":215},{"m":59.05,"d":225},{"m":59.25,"d":250},{"m":59.45,"d":215},{"m":59.65,"d":240},{"m":59.85,"d":205},{"m":60.05,"d":195},{"m":60.25,"d":220},{"m":60.45,"d":200},{"m":60.65,"d":230},{"m":60.85,"d":210},{"m":61.05,"d":185},{"m":61.25,"d":205},{"m":61.45,"d":195},{"m":61.65,"d":160},{"m":61.85,"d":185},{"m":62.05,"d":235},{"m":62.25,"d":215},{"m":62.45,"d":245},{"m":62.65,"d":225},{"m":62.85,"d":210},{"m":63.05,"d":225},{"m":63.25,"d":205},{"m":63.45,"d":215},{"m":63.65,"d":195},{"m":63.85,"d":225},{"m":64.05,"d":205},{"m":64.25,"d":190},{"m":64.45,"d":215},{"m":64.65,"d":200},{"m":64.85,"d":215},{"m":65.05,"d":190},{"m":65.25,"d":210},{"m":65.45,"d":200},{"m":65.65,"d":215},{"m":65.85,"d":185},{"m":66.05,"d":215},{"m":66.25,"d":200},{"m":66.45,"d":190},{"m":66.65,"d":215},{"m":66.85,"d":200},{"m":67.05,"d":230},{"m":67.25,"d":250},{"m":67.45,"d":225},{"m":67.65,"d":200},{"m":67.85,"d":215},{"m":68.05,"d":195},{"m":68.25,"d":220},{"m":68.45,"d":190},{"m":68.65,"d":210},{"m":68.85,"d":225},{"m":69.05,"d":240},{"m":69.25,"d":270},{"m":69.45,"d":290},{"m":69.65,"d":260},{"m":69.85,"d":275},{"m":70.05,"d":240},{"m":70.25,"d":225},{"m":70.45,"d":245},{"m":70.65,"d":215},{"m":70.85,"d":205},{"m":71.05,"d":215},{"m":71.25,"d":200},{"m":71.45,"d":190},{"m":71.65,"d":205},{"m":71.85,"d":195},{"m":72.05,"d":225},{"m":72.25,"d":215},{"m":72.45,"d":245},{"m":72.65,"d":250},{"m":72.85,"d":240},{"m":73.05,"d":265},{"m":73.25,"d":245},{"m":73.45,"d":230},{"m":73.65,"d":255},{"m":73.85,"d":240},{"m":74.05,"d":230},{"m":74.25,"d":215},{"m":74.45,"d":205},{"m":74.65,"d":185},{"m":74.85,"d":195},{"m":75.05,"d":165},{"m":75.25,"d":135},{"m":75.45,"d":160},{"m":75.65,"d":125},{"m":75.85,"d":170},{"m":76.05,"d":160},{"m":76.25,"d":185},{"m":76.45,"d":170},{"m":76.65,"d":175},{"m":76.85,"d":190},{"m":77.05,"d":200},{"m":77.25,"d":180},{"m":77.45,"d":195},{"m":77.65,"d":205},{"m":77.85,"d":185},{"m":78.05,"d":200},{"m":78.25,"d":210},{"m":78.45,"d":195},{"m":78.65,"d":220},{"m":78.85,"d":185},{"m":79.05,"d":210},{"m":79.25,"d":200},{"m":79.45,"d":220},{"m":79.65,"d":185},{"m":79.85,"d":205},{"m":80.05,"d":215},{"m":80.25,"d":200},{"m":80.45,"d":185},{"m":80.65,"d":210},{"m":80.85,"d":200},{"m":81.05,"d":215},{"m":81.25,"d":195},{"m":81.45,"d":190},{"m":81.65,"d":180},{"m":81.85,"d":165},{"m":82.05,"d":175},{"m":82.25,"d":160},{"m":82.45,"d":170},{"m":82.65,"d":230},{"m":82.85,"d":260},{"m":83.05,"d":245},{"m":83.25,"d":240},{"m":83.45,"d":255},{"m":83.65,"d":235},{"m":83.85,"d":245},{"m":84.05,"d":225},{"m":84.25,"d":200},{"m":84.45,"d":205},{"m":84.65,"d":195},{"m":84.85,"d":190},{"m":85.05,"d":180},{"m":85.25,"d":170},{"m":85.45,"d":165},{"m":85.65,"d":165},{"m":85.85,"d":180},{"m":86.05,"d":205},{"m":86.25,"d":215},{"m":86.45,"d":225},{"m":86.65,"d":205},{"m":86.85,"d":225},{"m":87.05,"d":210},{"m":87.25,"d":195},{"m":87.45,"d":215},{"m":87.65,"d":185},{"m":87.85,"d":200},{"m":88.05,"d":175},{"m":88.25,"d":190},{"m":88.45,"d":185},{"m":88.65,"d":185},{"m":88.85,"d":190},{"m":89.05,"d":195},{"m":89.25,"d":200},{"m":89.45,"d":210},{"m":89.65,"d":190},{"m":89.85,"d":200},{"m":90.05,"d":190},{"m":90.25,"d":205},{"m":90.45,"d":185},{"m":90.65,"d":190},{"m":90.85,"d":180},{"m":91.05,"d":195},{"m":91.25,"d":175},{"m":91.45,"d":180},{"m":91.65,"d":195},{"m":91.85,"d":200},{"m":92.05,"d":185},{"m":92.25,"d":210},{"m":92.45,"d":195},{"m":92.65,"d":185},{"m":92.85,"d":205},{"m":93.05,"d":200},{"m":93.25,"d":190},{"m":93.45,"d":210},{"m":93.65,"d":225},{"m":93.85,"d":210},{"m":94.05,"d":225},{"m":94.25,"d":215},{"m":94.45,"d":225},{"m":94.65,"d":240},{"m":94.85,"d":220},{"m":95.05,"d":190},{"m":95.25,"d":215},{"m":95.45,"d":205},{"m":95.65,"d":195},{"m":95.85,"d":210},{"m":96.05,"d":195},{"m":96.25,"d":210},{"m":96.45,"d":195},{"m":96.65,"d":205},{"m":96.85,"d":180},{"m":97.05,"d":190},{"m":97.25,"d":170},{"m":97.45,"d":155},{"m":97.65,"d":145},{"m":97.85,"d":135},{"m":98.05,"d":150},{"m":98.25,"d":170},{"m":98.45,"d":160},{"m":98.65,"d":170},{"m":98.85,"d":160},{"m":99.05,"d":180},{"m":99.25,"d":170},{"m":99.45,"d":175},{"m":99.65,"d":195},{"m":99.85,"d":230},{"m":100.05,"d":225},{"m":100.25,"d":230},{"m":100.45,"d":235},{"m":100.65,"d":215},{"m":100.85,"d":220},{"m":101.05,"d":200},{"m":101.25,"d":205},{"m":101.45,"d":195},{"m":101.65,"d":210},{"m":101.85,"d":180},{"m":102.05,"d":200},{"m":102.25,"d":185},{"m":102.45,"d":175},{"m":102.65,"d":185},{"m":102.85,"d":180},{"m":103.05,"d":175},{"m":103.25,"d":170},{"m":103.45,"d":185},{"m":103.65,"d":180},{"m":103.85,"d":175},{"m":104.05,"d":170},{"m":104.25,"d":185},{"m":104.45,"d":200},{"m":104.65,"d":220},{"m":104.85,"d":215},{"m":105.05,"d":215},{"m":105.25,"d":190},{"m":105.45,"d":205},{"m":105.65,"d":200},{"m":105.85,"d":210},{"m":106.05,"d":205},{"m":106.25,"d":195},{"m":106.45,"d":200},{"m":106.65,"d":185},{"m":106.85,"d":195},{"m":107.05,"d":200},{"m":107.25,"d":195},{"m":107.45,"d":190},{"m":107.65,"d":195},{"m":107.85,"d":200},{"m":108.05,"d":205},{"m":108.25,"d":195},{"m":108.45,"d":190},{"m":108.65,"d":185},{"m":108.85,"d":195},{"m":109.05,"d":200},{"m":109.25,"d":195},{"m":109.45,"d":190},{"m":109.65,"d":205},{"m":109.85,"d":190},{"m":110.05,"d":200},{"m":110.25,"d":185},{"m":110.45,"d":200},{"m":110.65,"d":195},{"m":110.85,"d":190},{"m":111.05,"d":205},{"m":111.25,"d":195},{"m":111.45,"d":185},{"m":111.65,"d":200},{"m":111.85,"d":195},{"m":112.05,"d":185},{"m":112.25,"d":200},{"m":112.45,"d":195},{"m":112.65,"d":205},{"m":112.85,"d":195},{"m":113.05,"d":210},{"m":113.25,"d":190},{"m":113.45,"d":200},{"m":113.65,"d":195},{"m":113.85,"d":205},{"m":114.05,"d":195},{"m":114.25,"d":190},{"m":114.45,"d":200},{"m":114.65,"d":195},{"m":114.85,"d":185},{"m":115.05,"d":200},{"m":115.25,"d":195},{"m":115.45,"d":205},{"m":115.65,"d":190},{"m":115.85,"d":200},{"m":116.05,"d":195},{"m":116.25,"d":185},{"m":116.45,"d":200},{"m":116.65,"d":195},{"m":116.85,"d":185},{"m":117.05,"d":160},{"m":117.25,"d":165},{"m":117.45,"d":160},{"m":117.65,"d":155},{"m":117.85,"d":165},{"m":118.05,"d":200},{"m":118.25,"d":195},{"m":118.45,"d":210},{"m":118.65,"d":205},{"m":118.85,"d":200},{"m":119.05,"d":190},{"m":119.25,"d":195},{"m":119.45,"d":180},{"m":119.65,"d":175},{"m":119.85,"d":180}]
},
"vconcat": [
 {
  "width": 736, "height": 369,
  "resolve": {"scale": {"y": "independent"}, "axis": {"x": "independent", "y": "independent"}},
  "layer": [
   {"data": {"name": "wdL1"}, "mark": {"type": "rect", "color": "#ff0000", "opacity": 0.2},
    "encoding": {
     "x": {"field": "h0", "type": "quantitative", "scale": {"domain": [16, 57.3], "nice": false, "zero": false}, "axis": null},
     "x2": {"field": "h1"},
     "y": {"field": "lo", "type": "quantitative", "scale": {"domain": [0, 360], "range": [369, 192], "nice": false, "zero": false}, "axis": null},
     "y2": {"field": "hi"}}},
   {"data": {"name": "wdM1"}, "mark": {"type": "rect", "color": "#ff0000", "opacity": 0.55},
    "encoding": {
     "x": {"field": "h0", "type": "quantitative", "scale": {"domain": [16, 57.3], "nice": false, "zero": false}, "axis": null},
     "x2": {"field": "h1"},
     "y": {"field": "lo", "type": "quantitative", "scale": {"domain": [0, 360], "range": [369, 192], "nice": false, "zero": false}, "axis": null},
     "y2": {"field": "hi"}}},
   {"data": {"name": "wdD1"}, "mark": {"type": "rect", "color": "#ff0000", "opacity": 0.9},
    "encoding": {
     "x": {"field": "h0", "type": "quantitative", "scale": {"domain": [16, 57.3], "nice": false, "zero": false}, "axis": null},
     "x2": {"field": "h1"},
     "y": {"field": "lo", "type": "quantitative", "scale": {"domain": [0, 360], "range": [369, 192], "nice": false, "zero": false}, "axis": null},
     "y2": {"field": "hi"}}},
   {"data": {"name": "wdp1"}, "mark": {"type": "square", "color": "#ff0000", "size": 6, "opacity": 1},
    "encoding": {
     "x": {"field": "h", "type": "quantitative", "scale": {"domain": [16, 57.3], "nice": false, "zero": false},
       "axis": {"orient": "bottom", "title": null, "values": [16,17,18,19,20,21,22,23,24,25,26,27,28,29,30,31,32,33,34,35,36,37,38,39,40,41,42,43,44,45,46,47,48,49,50,51,52,53,54,55,56,57], "domainColor": "#000000", "tickColor": "#000000", "labelColor": "#000000", "tickSize": {"condition": {"test": "datum.value % 6 == 0", "value": 8}, "value": 4}, "labelPadding": 9,
       "labelExpr": "datum.value % 6 != 0 ? '' : (datum.value == 18 || datum.value % 24 == 0) ? [(datum.value % 24 < 10 ? '0' : '') + (datum.value % 24) + ':00', '0' + (floor(datum.value / 24) + 1) + '.02.2014'] : (datum.value % 24 < 10 ? '0' : '') + (datum.value % 24) + ':00'"}},
     "y": {"field": "d", "type": "quantitative", "scale": {"domain": [0, 360], "range": [369, 192], "nice": false, "zero": false},
       "axis": {"orient": "left", "title": "Wind Direction [°]", "values": [0,50,100,150,200,250,300,350], "labelExpr": "datum.value % 100 == 0 ? datum.label : ''", "tickSize": {"condition": {"test": "datum.value % 100 == 0", "value": 10}, "value": 5}, "labelPadding": 4, "labelColor": "#ff0000", "titleColor": "#ff0000", "domainColor": "#ff5050", "tickColor": "#ff3030", "titleX": -59, "titleBaseline": "alphabetic"}}}},
   {"data": {"name": "ws1"}, "mark": {"type": "rule", "color": "#7f00ff", "strokeWidth": 3},
    "encoding": {
     "x": {"field": "h0", "type": "quantitative", "scale": {"domain": [16, 57.3], "nice": false, "zero": false}, "axis": null},
     "x2": {"field": "h1"},
     "y": {"field": "s", "type": "quantitative", "scale": {"domain": [0, 2.5], "range": [369, 192], "nice": false, "zero": false},
       "axis": {"orient": "right", "title": "Wind Speed [m/s]", "values": [0, 0.5, 1, 1.5, 2, 2.5], "format": ".1f", "tickSize": 10, "labelPadding": 5, "labelOffset": {"condition": {"test": "datum.value == 2.5", "value": 2}, "value": 0}, "labelColor": "#7f00ff", "titleColor": "#7f00ff", "domainColor": "#a060ff", "tickColor": "#9040ff", "titleX": 68, "titleBaseline": "alphabetic"}}}},
   {"data": {"name": "rh1"}, "mark": {"type": "line", "interpolate": "step-after", "color": "#0000ff", "strokeWidth": 2},
    "encoding": {
     "x": {"field": "h", "type": "quantitative", "scale": {"domain": [16, 57.3], "nice": false, "zero": false},
       "axis": {"orient": "top", "title": null, "values": [16,17,18,19,20,21,22,23,24,25,26,27,28,29,30,31,32,33,34,35,36,37,38,39,40,41,42,43,44,45,46,47,48,49,50,51,52,53,54,55,56,57], "domainColor": "#000000", "tickColor": "#000000", "labelColor": "#000000", "tickSize": {"condition": {"test": "datum.value % 6 == 0", "value": 8}, "value": 4}, "labelPadding": 29.4,
       "labelExpr": "datum.value % 6 != 0 ? '' : [(datum.value == 18 || datum.value % 24 == 0) ? '0' + (floor(datum.value / 24) + 1) + '.02.2014' : '', (datum.value % 24 < 10 ? '0' : '') + (datum.value % 24) + ':00']"}},
     "y": {"field": "v", "type": "quantitative", "scale": {"domain": [69.5, 94], "range": [174.25, 0.3], "nice": false, "zero": false},
       "axis": {"orient": "left", "title": "RH [%]", "values": [70, 75, 80, 85, 90], "tickSize": 10, "labelPadding": 4, "labelColor": "#0000ff", "titleColor": "#0000ff", "domainColor": "#5a5aff", "tickColor": "#3a3aff", "titleX": -59, "titleBaseline": "alphabetic"}}}},
   {"data": {"name": "t1"}, "mark": {"type": "line", "interpolate": "step-after", "color": "#cf5316", "strokeWidth": 2},
    "encoding": {
     "x": {"field": "h", "type": "quantitative", "scale": {"domain": [16, 57.3], "nice": false, "zero": false}, "axis": null},
     "y": {"field": "v", "type": "quantitative", "scale": {"domain": [0, 8], "range": [103.7, 0.3], "nice": false, "zero": false},
       "axis": {"orient": "right", "title": "T [°C]", "values": [0, 2, 4, 6, 8], "format": "d", "tickSize": 10, "labelPadding": 5, "labelColor": "#cf5316", "titleColor": "#cf5316", "domainColor": "#e49870", "tickColor": "#d86a30", "titleX": 68, "titleBaseline": "alphabetic"}}}},
   {"data": {"name": "p1"}, "mark": {"type": "line", "interpolate": "step-after", "color": "#14961e", "strokeWidth": 2},
    "encoding": {
     "x": {"field": "h", "type": "quantitative", "scale": {"domain": [16, 57.3], "nice": false, "zero": false}, "axis": null},
     "y": {"field": "v", "type": "quantitative", "scale": {"domain": [992, 1006], "range": [174.6, 110.5], "nice": false, "zero": false},
       "axis": {"orient": "right", "title": "P [mbar]", "values": [992, 994, 996, 998, 1000, 1002, 1004, 1006], "format": "d", "labelExpr": "datum.value % 8 == 0 ? datum.label : ''", "tickSize": {"condition": {"test": "datum.value % 8 == 0", "value": 10}, "value": 5}, "labelPadding": 6, "labelOffset": {"condition": {"test": "datum.value == 992", "value": -2}, "value": 0}, "labelColor": "#14961e", "titleColor": "#14961e", "domainColor": "#60bc60", "tickColor": "#40aa40", "titleX": 68, "titleBaseline": "alphabetic"}}}}
  ]
 },
 {
  "width": 736, "height": 368,
  "resolve": {"scale": {"y": "independent"}, "axis": {"x": "independent", "y": "independent"}},
  "layer": [
   {"data": {"name": "wd2"}, "mark": {"type": "square", "color": "#ff0000", "size": 6, "opacity": 1},
    "encoding": {
     "x": {"field": "m", "type": "quantitative", "scale": {"domain": [40, 120], "nice": false, "zero": false},
       "axis": {"orient": "bottom", "title": null, "values": [40,41,42,43,44,45,46,47,48,49,50,51,52,53,54,55,56,57,58,59,60,61,62,63,64,65,66,67,68,69,70,71,72,73,74,75,76,77,78,79,80,81,82,83,84,85,86,87,88,89,90,91,92,93,94,95,96,97,98,99,100,101,102,103,104,105,106,107,108,109,110,111,112,113,114,115,116,117,118,119,120], "domainColor": "#000000", "tickColor": "#000000", "labelColor": "#000000", "tickSize": {"condition": {"test": "datum.value % 5 == 0", "value": 8}, "value": 4}, "labelPadding": 9,
       "labelExpr": "datum.value % 15 != 0 ? '' : datum.value == 45 ? ['09:45', '02.02.2014'] : (floor(datum.value / 60) + 9 < 10 ? '0' : '') + (floor(datum.value / 60) + 9) + ':' + (datum.value % 60 < 10 ? '0' : '') + (datum.value % 60)"}},
     "y": {"field": "d", "type": "quantitative", "scale": {"domain": [0, 360], "range": [368, 191.6], "nice": false, "zero": false},
       "axis": {"orient": "left", "title": "Wind Direction [°]", "values": [0,50,100,150,200,250,300,350], "labelExpr": "datum.value % 100 == 0 ? datum.label : ''", "tickSize": {"condition": {"test": "datum.value % 100 == 0", "value": 10}, "value": 5}, "labelPadding": 4, "labelColor": "#ff0000", "titleColor": "#ff0000", "domainColor": "#ff5050", "tickColor": "#ff3030", "titleX": -59, "titleBaseline": "alphabetic"}}}},
   {"data": {"name": "ws2"}, "mark": {"type": "rule", "color": "#7f00ff", "strokeWidth": 3},
    "encoding": {
     "x": {"field": "m0", "type": "quantitative", "scale": {"domain": [40, 120], "nice": false, "zero": false}, "axis": null},
     "x2": {"field": "m1"},
     "y": {"field": "s", "type": "quantitative", "scale": {"domain": [0, 2.5], "range": [368, 191.6], "nice": false, "zero": false},
       "axis": {"orient": "right", "title": "Wind Speed [m/s]", "values": [0, 0.5, 1, 1.5, 2, 2.5], "format": ".1f", "tickSize": 10, "labelPadding": 5, "labelOffset": {"condition": {"test": "datum.value == 2.5", "value": 2}, "value": 0}, "labelColor": "#7f00ff", "titleColor": "#7f00ff", "domainColor": "#a060ff", "tickColor": "#9040ff", "titleX": 68, "titleBaseline": "alphabetic"}}}},
   {"data": {"name": "rh2"}, "mark": {"type": "line", "interpolate": "step-after", "color": "#0000ff", "strokeWidth": 2.5},
    "encoding": {
     "x": {"field": "m", "type": "quantitative", "scale": {"domain": [40, 120], "nice": false, "zero": false},
       "axis": {"orient": "top", "title": null, "values": [40,41,42,43,44,45,46,47,48,49,50,51,52,53,54,55,56,57,58,59,60,61,62,63,64,65,66,67,68,69,70,71,72,73,74,75,76,77,78,79,80,81,82,83,84,85,86,87,88,89,90,91,92,93,94,95,96,97,98,99,100,101,102,103,104,105,106,107,108,109,110,111,112,113,114,115,116,117,118,119,120], "domainColor": "#000000", "tickColor": "#000000", "labelColor": "#000000", "tickSize": {"condition": {"test": "datum.value % 5 == 0", "value": 8}, "value": 4}, "labelPadding": 29.4,
       "labelExpr": "datum.value % 15 != 0 ? '' : [datum.value == 45 ? '02.02.2014' : '', (floor(datum.value / 60) + 9 < 10 ? '0' : '') + (floor(datum.value / 60) + 9) + ':' + (datum.value % 60 < 10 ? '0' : '') + (datum.value % 60)]"}},
     "y": {"field": "v", "type": "quantitative", "scale": {"domain": [86, 90], "range": [176.7, 0.3], "nice": false, "zero": false},
       "axis": {"orient": "left", "title": "RH [%]", "values": [86, 87, 88, 89, 90], "tickSize": 10, "labelPadding": 4, "labelColor": "#0000ff", "titleColor": "#0000ff", "domainColor": "#5a5aff", "tickColor": "#3a3aff", "titleX": -59, "titleBaseline": "alphabetic"}}}},
   {"data": {"name": "t2"}, "mark": {"type": "line", "interpolate": "step-after", "color": "#cf5316", "strokeWidth": 2},
    "encoding": {
     "x": {"field": "m", "type": "quantitative", "scale": {"domain": [40, 120], "nice": false, "zero": false}, "axis": null},
     "y": {"field": "v", "type": "quantitative", "scale": {"domain": [4.1, 5.42], "range": [102.4, 6.7], "nice": false, "zero": false},
       "axis": {"orient": "right", "title": "T [°C]", "values": [4.2, 4.4, 4.6, 4.8, 5.0, 5.2, 5.4], "format": ".1f", "labelExpr": "round(datum.value * 10) % 4 == 0 ? datum.label : ''", "tickSize": {"condition": {"test": "round(datum.value * 10) % 4 == 0", "value": 10}, "value": 5}, "labelPadding": 5, "labelColor": "#cf5316", "titleColor": "#cf5316", "domainColor": "#e49870", "tickColor": "#d86a30", "titleX": 68, "titleBaseline": "alphabetic"}}}},
   {"data": {"name": "p2"}, "mark": {"type": "line", "interpolate": "step-after", "color": "#14961e", "strokeWidth": 2},
    "encoding": {
     "x": {"field": "m", "type": "quantitative", "scale": {"domain": [40, 120], "nice": false, "zero": false}, "axis": null},
     "y": {"field": "v", "type": "quantitative", "scale": {"domain": [1000, 1004], "range": [173, 110.7], "nice": false, "zero": false},
       "axis": {"orient": "right", "title": "P [mbar]", "values": [1000, 1001, 1002, 1003, 1004], "format": "d", "labelExpr": "datum.value % 2 == 0 ? datum.label : ''", "tickSize": {"condition": {"test": "datum.value % 2 == 0", "value": 10}, "value": 5}, "labelPadding": 6, "labelOffset": {"condition": {"test": "datum.value == 1000", "value": -2}, "value": 0}, "labelColor": "#14961e", "titleColor": "#14961e", "domainColor": "#60bc60", "tickColor": "#40aa40", "titleX": 68, "titleBaseline": "alphabetic"}}}}
  ]
 }
]
}
